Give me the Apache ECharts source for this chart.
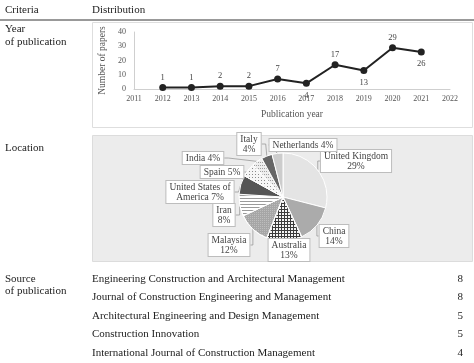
<!DOCTYPE html>
<html>
<head>
<meta charset="utf-8">
<script src="https://cdn.jsdelivr.net/npm/echarts@6/dist/echarts.min.js"></script>
<style>html,body{margin:0;padding:0;background:#fff;}#c{width:474px;height:363px;}</style>
</head>
<body>
<div id="c"></div>
<script>
// ---- data ----
const years = [2012, 2013, 2014, 2015, 2016, 2017, 2018, 2019, 2020, 2021];
const papers = [1, 1, 2, 2, 7, 4, 17, 13, 29, 26];
const xTicks = [2011, 2012, 2013, 2014, 2015, 2016, 2017, 2018, 2019, 2020, 2021, 2022];
const yTicks = [0, 10, 20, 30, 40];
const countries = ['United Kingdom', 'China', 'Australia', 'Malaysia', 'Iran', 'United States of\nAmerica', 'Spain', 'India', 'Italy', 'Netherlands'];
const shares = [29, 14, 13, 12, 8, 7, 5, 4, 4, 4];
const journals = ['Engineering Construction and Architectural Management', 'Journal of Construction Engineering and Management', 'Architectural Engineering and Design Management', 'Construction Innovation', 'International Journal of Construction Management'];
const journalCounts = [8, 8, 5, 5, 4];

// ---- styling / layout ----
const FONT = 'Liberation Serif';
const below = [2017, 2019, 2021];
const twoLine = [true, true, true, true, true, false, false, false, true, false];
const sliceStyles = [
  {color: '#e4e4e4'},
  {color: '#ababab'},
  {color: '#3a3a3a', decal: {symbol: 'rect', symbolSize: 1, dashArrayX: [[2, 1]], dashArrayY: [2, 1], color: '#f4f4f4'}},
  {color: '#a6a6a6', decal: {symbol: 'rect', symbolSize: 1, dashArrayX: [[1, 1]], dashArrayY: [1, 1], color: '#bdbdbd'}},
  {color: '#ffffff', decal: {symbol: 'rect', symbolSize: 1, dashArrayX: [[1, 0]], dashArrayY: [1, 2], color: '#9a9a9a'}},
  {color: '#555555'},
  {color: '#f6f6f6', decal: {symbol: 'rect', symbolSize: 1, dashArrayX: [[1, 2]], dashArrayY: [1, 2], color: '#8a8a8a'}},
  {color: '#eeeeee', decal: {symbol: 'rect', symbolSize: 1, dashArrayX: [[1, 1]], dashArrayY: [1, 2], color: '#a0a0a0'}},
  {color: '#666666'},
  {color: '#cccccc'}
];
const labelPos = [[356, 161], [334, 236], [289, 250], [229, 245], [224, 215], [200, 192], [222, 172], [203, 158], [249, 144], [303, 145]];

const pieData = countries.map((n, i) => ({
  name: n, value: shares[i],
  itemStyle: Object.assign({borderColor: '#fff', borderWidth: 1}, sliceStyles[i])
}));

const lineData = years.map((y, i) => ({
  value: [y, papers[i]],
  label: {position: below.indexOf(y) >= 0 ? 'bottom' : 'top', distance: below.indexOf(y) >= 0 ? 4 : 2}
}));

const graphics = [
  {type: 'line', shape: {x1: 0, y1: 20, x2: 474, y2: 20}, style: {stroke: '#999', lineWidth: 2}, z: -5},
  {type: 'rect', shape: {x: 92.5, y: 22.5, width: 380, height: 105}, style: {fill: '#fff', stroke: '#dedede', lineWidth: 1}, z: -10},
  {type: 'rect', shape: {x: 92.5, y: 135.5, width: 380, height: 126}, style: {fill: '#ececec', stroke: '#dcdcdc', lineWidth: 1}, z: -10},
  {type: 'text', left: 5, top: 5, style: {text: 'Criteria', font: '11px ' + FONT, fill: '#222'}},
  {type: 'text', left: 92, top: 5, style: {text: 'Distribution', font: '11px ' + FONT, fill: '#222'}},
  {type: 'text', left: 5, top: 22, style: {text: 'Year\nof publication', font: '11px ' + FONT, fill: '#222', lineHeight: 13.5}},
  {type: 'text', left: 5, top: 143, style: {text: 'Location', font: '11px ' + FONT, fill: '#222'}},
  {type: 'text', left: 5, top: 273, style: {text: 'Source\nof publication', font: '11px ' + FONT, fill: '#222', lineHeight: 12}}
];
journals.forEach((j, i) => {
  graphics.push({type: 'text', left: 92, top: 273.5 + i * 18.5, style: {text: j, font: '11px ' + FONT, fill: '#222'}});
  graphics.push({type: 'text', right: 11, top: 273.5 + i * 18.5, style: {text: String(journalCounts[i]), font: '11px ' + FONT, fill: '#222', align: 'right'}});
});

const chart = echarts.init(document.getElementById('c'), null, {renderer: 'canvas'});
chart.setOption({
  animation: false,
  backgroundColor: '#fff',
  textStyle: {fontFamily: FONT},
  graphic: graphics,
  grid: {left: 134, right: 24, top: 32, bottom: 274, containLabel: false},
  xAxis: {
    type: 'value', min: xTicks[0], max: xTicks[xTicks.length - 1], interval: 1,
    name: 'Publication year', nameLocation: 'middle', nameGap: 20,
    nameTextStyle: {fontFamily: FONT, fontSize: 9.5, color: '#555'},
    axisLine: {lineStyle: {color: '#cfcfcf', width: 1}},
    axisTick: {show: false}, splitLine: {show: false},
    axisLabel: {fontFamily: FONT, fontSize: 8, color: '#555', margin: 6, formatter: v => String(v)}
  },
  yAxis: {
    type: 'value', min: yTicks[0], max: yTicks[yTicks.length - 1], interval: 10,
    name: 'Number of papers', nameLocation: 'middle', nameGap: 22, nameRotate: 90,
    nameTextStyle: {fontFamily: FONT, fontSize: 9.5, color: '#555'},
    axisLine: {show: true, lineStyle: {color: '#cfcfcf', width: 1}},
    axisTick: {show: false}, splitLine: {show: false},
    axisLabel: {fontFamily: FONT, fontSize: 8, color: '#555', margin: 8}
  },
  series: [
    {
      type: 'line', data: lineData, symbol: 'circle', symbolSize: 7,
      lineStyle: {color: '#222', width: 2}, itemStyle: {color: '#222'},
      label: {show: true, fontFamily: FONT, fontSize: 8.5, color: '#444', formatter: p => String(p.value[1])}
    },
    {
      type: 'pie', center: [283, 197], radius: 44, startAngle: 90, clockwise: true,
      data: pieData, avoidLabelOverlap: false,
      label: {
        show: true, position: 'outside', fontFamily: FONT, fontSize: 9.5, color: '#444', lineHeight: 10,
        backgroundColor: '#fff', borderColor: '#bdbdbd', borderWidth: 1, padding: [1, 3],
        align: 'center',
        formatter: p => p.name + (twoLine[p.dataIndex] ? '\n' : ' ') + p.value + '%'
      },
      labelLine: {show: true, length: 4, length2: 4, lineStyle: {color: '#999', width: 0.8}},
      labelLayout: p => ({x: labelPos[p.dataIndex][0], y: labelPos[p.dataIndex][1], align: 'center', verticalAlign: 'middle'})
    }
  ]
});
</script>
</body>
</html>
